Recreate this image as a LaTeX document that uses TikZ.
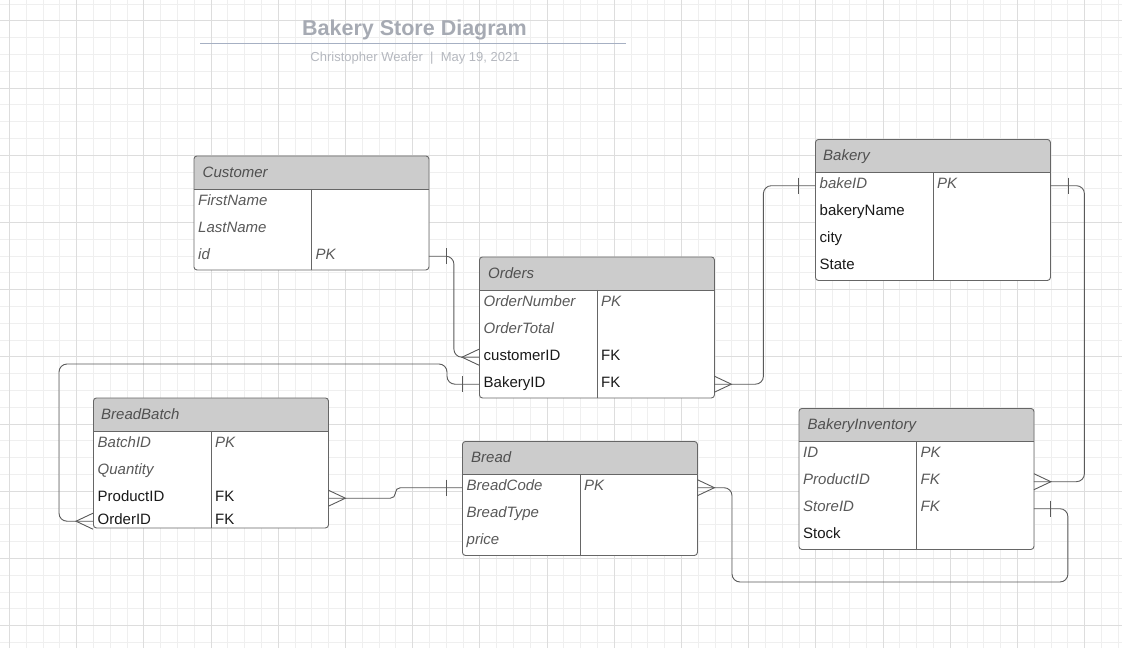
\documentclass[tikz,border=0pt]{standalone}
\usepackage{fontspec}
\setmainfont{Liberation Sans}
\definecolor{gridminor}{HTML}{EFEFEF}
\definecolor{gridmajor}{HTML}{DDDDDD}
\definecolor{titlegray}{HTML}{A6AAB3}
\definecolor{subgray}{HTML}{B5B8BF}
\definecolor{ruleblue}{HTML}{A6B0C3}
\definecolor{headfill}{HTML}{CCCCCC}
\definecolor{tabline}{HTML}{666666}
\definecolor{headtext}{HTML}{505050}
\definecolor{attrgray}{HTML}{595959}
\definecolor{linkgray}{HTML}{5A5A5A}
\begin{document}
\begin{tikzpicture}[x=1pt,y=-1pt,
  tabbox/.style={anchor=north west, minimum width=235pt, inner sep=0pt, draw=tabline, line width=.9pt,
    fill=white, rounded corners=3pt,
    path picture={
      \fill[headfill, sharp corners] (path picture bounding box.north west) rectangle ([yshift=-33pt]path picture bounding box.north east);
      \draw[tabline, line width=.9pt] ([yshift=-33pt]path picture bounding box.north west) -- ([yshift=-33pt]path picture bounding box.north east);
      \draw[tabline, line width=.9pt] ([xshift=117.5pt,yshift=-33pt]path picture bounding box.north west) -- ([xshift=117.5pt]path picture bounding box.south west);}},
  headlabel/.style={anchor=west, inner sep=0pt, text height=10.7pt, text depth=0pt, text=headtext,
    font=\fontsize{15}{18}\selectfont\itshape},
  row/.style={anchor=north west, text width=226pt, align=left, inner xsep=4.5pt, inner ysep=0pt,
    minimum height=27pt, text height=10.7pt, text depth=5pt},
  keyfield/.style={anchor=west, inner xsep=4.5pt, inner ysep=0pt, text height=10.7pt, text depth=5pt},
  itfield/.style={text=attrgray, font=\fontsize{15}{18}\selectfont\itshape},
  rmfield/.style={text=black!90, font=\fontsize{15}{18}\selectfont},
  link/.style={draw=linkgray, line width=.9pt}]
\useasboundingbox (0,0) rectangle (1122,648);
\fill[white] (0,0) rectangle (1122,648);
% grid
\foreach \i in {0,...,66}
\draw[gridminor, line width=.8pt] ({9.3+16.8*\i},0) -- ({9.3+16.8*\i},648);
\foreach \j in {0,...,38}
\draw[gridminor, line width=.8pt] (0,{3.9+16.8*\j}) -- (1122,{3.9+16.8*\j});
\foreach \i in {0,...,16}
\draw[gridmajor, line width=.8pt] ({9.3+67.2*\i},0) -- ({9.3+67.2*\i},648);
\foreach \j in {0,...,9}
\draw[gridmajor, line width=.8pt] (0,{20.7+67.2*\j}) -- (1122,{20.7+67.2*\j});
% title
\node[anchor=base, inner sep=0pt, text=titlegray, font=\fontsize{21.5}{26}\selectfont\bfseries] (title) at (414.5,35) {Bakery Store Diagram};
\draw[ruleblue, line width=1.2pt] (200,43.7) -- (626,43.7);
\node[anchor=base, inner sep=0pt, text=subgray, font=\fontsize{13}{16}\selectfont] (byline) at (415,61.7) {Christopher Weafer~~|~~May 19, 2021};
% Customer
\node[tabbox, minimum height=114] (cust) at (193.5,155.5) {};
\node[headlabel] (cust-title) at ([xshift=9,yshift=-16.5]cust.north west) {Customer};
\foreach \t/\k/\s [count=\i] in {FirstName//itfield,LastName//itfield,id/PK/itfield} {
\node[row,\s] (cust-\i) at ([yshift={-33-27*(\i-1)}]cust.north west) {\t};
\node[keyfield,\s] (cust-\i-key) at ([xshift=117.5]cust-\i.west) {\k};}
% Orders
\node[tabbox, minimum height=141] (ord) at (479,256.5) {};
\node[headlabel] (ord-title) at ([xshift=9,yshift=-16.5]ord.north west) {Orders};
\foreach \t/\k/\s [count=\i] in {OrderNumber/PK/itfield,OrderTotal//itfield,customerID/FK/rmfield,BakeryID/FK/rmfield} {
\node[row,\s] (ord-\i) at ([yshift={-33-27*(\i-1)}]ord.north west) {\t};
\node[keyfield,\s] (ord-\i-key) at ([xshift=117.5]ord-\i.west) {\k};}
% Bakery
\node[tabbox, minimum height=141] (bak) at (815,139) {};
\node[headlabel] (bak-title) at ([xshift=8,yshift=-16.5]bak.north west) {Bakery};
\foreach \t/\k/\s [count=\i] in {bakeID/PK/itfield,bakeryName//rmfield,city//rmfield,State//rmfield} {
\node[row,\s] (bak-\i) at ([yshift={-33-27*(\i-1)}]bak.north west) {\t};
\node[keyfield,\s] (bak-\i-key) at ([xshift=117.5]bak-\i.west) {\k};}
% BreadBatch
\node[tabbox, minimum height=130] (batch) at (93,397.5) {};
\node[headlabel] (batch-title) at ([xshift=8,yshift=-16.5]batch.north west) {BreadBatch};
\foreach \t/\k/\s/\h [count=\i] in {BatchID/PK/itfield/27,Quantity//itfield/27,ProductID/FK/rmfield/27,OrderID/FK/rmfield/19} {
\node[row,\s,minimum height=\h] (batch-\i) at ([yshift={-33-27*(\i-1)}]batch.north west) {\t};
\node[keyfield,\s] (batch-\i-key) at ([xshift=117.5]batch-\i.west) {\k};}
% Bread
\node[tabbox, minimum height=114] (bread) at (462,441) {};
\node[headlabel] (bread-title) at ([xshift=9,yshift=-16.5]bread.north west) {Bread};
\foreach \t/\k/\s [count=\i] in {BreadCode/PK/itfield,BreadType//itfield,price//itfield} {
\node[row,\s] (bread-\i) at ([yshift={-33-27*(\i-1)}]bread.north west) {\t};
\node[keyfield,\s] (bread-\i-key) at ([xshift=117.5]bread-\i.west) {\k};}
% BakeryInventory
\node[tabbox, minimum height=141] (inv) at (798.5,408) {};
\node[headlabel] (inv-title) at ([xshift=9,yshift=-16.5]inv.north west) {BakeryInventory};
\foreach \t/\k/\s [count=\i] in {ID/PK/itfield,ProductID/FK/itfield,StoreID/FK/itfield,Stock//rmfield} {
\node[row,\s] (inv-\i) at ([yshift={-33-27*(\i-1)}]inv.north west) {\t};
\node[keyfield,\s] (inv-\i-key) at ([xshift=117.5]inv-\i.west) {\k};}
% relations
\draw[link, rounded corners=8] (cust-3.east) -- ++(25,0) |- (ord-3.west);
\draw[link, rounded corners=8] (batch-4.west) -| (59,364) -| ([xshift=-32]ord-4.west) -- (ord-4.west);
\draw[link, rounded corners=8] (ord-4.east) -- ++(49,0) |- (bak-1.west);
\draw[link, rounded corners=8] (bak-1.east) -- ++(34,0) |- (inv-2.east);
\draw[link, rounded corners=5] (batch-3.east) -- ++(67,0) |- (bread-1.west);
\draw[link, rounded corners=8] (bread-1.east) -| (732,582) -| ([xshift=34]inv-3.east) -- (inv-3.east);
% one
\foreach \n/\d in {cust-3.east/18,ord-4.west/-17,bak-1.west/-17,bak-1.east/18,bread-1.west/-16,inv-3.east/17}
\draw[link] ([xshift=\d,yshift=8]\n) -- ([xshift=\d,yshift=-8]\n);
% many
\foreach \n/\d in {ord-3.west/-17,batch-4.west/-17,ord-4.east/17,inv-2.east/17,batch-3.east/17,bread-1.east/17}
\draw[link] ([yshift=8]\n) -- ([xshift=\d]\n) -- ([yshift=-8]\n);
\end{tikzpicture}
\end{document}
